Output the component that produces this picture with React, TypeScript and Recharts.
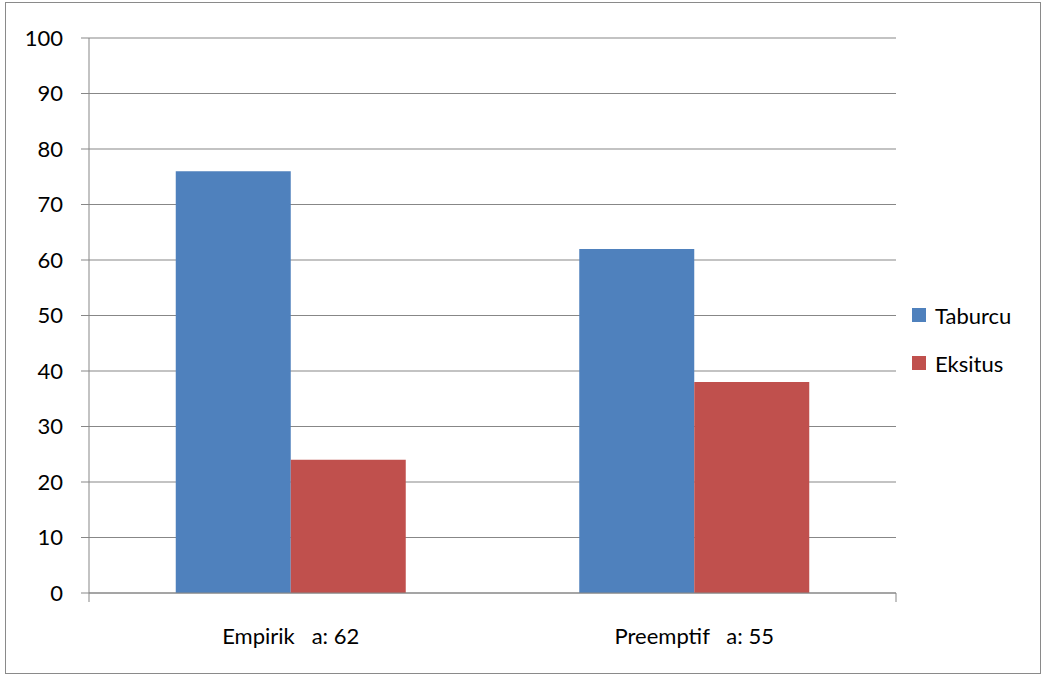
import React from "react";
import {
  Bar,
  BarChart,
  CartesianGrid,
  Legend,
  XAxis,
  YAxis,
} from "recharts";

const groups = ["Empirik   a: 62", "Preemptif   a: 55"];
const seriesNames = ["Taburcu", "Eksitus"];
const taburcu = [76, 62];
const eksitus = [24, 38];
const yTicks = [0, 10, 20, 30, 40, 50, 60, 70, 80, 90, 100];

const rows = groups.map((g, i) => ({
  group: g,
  taburcu: taburcu[i],
  eksitus: eksitus[i],
}));

const FONT = "Lato, 'Liberation Sans', sans-serif";
const GRID = "#878787";

function GroupTick(props: any) {
  const { x, y, payload } = props;
  return (
    <text
      x={x}
      y={y}
      dy="0.71em"
      textAnchor="middle"
      fill="#000"
      fontSize={22}
      fontFamily={FONT}
      style={{ whiteSpace: "pre" }}
    >
      {payload.value}
    </text>
  );
}

// only the tick marks at the group edges, no labels
function EmptyTick() {
  return <g />;
}

function SideLegend(props: any) {
  const items = [...(props.payload || [])].sort(
    (a: any, b: any) => seriesNames.indexOf(a.value) - seriesNames.indexOf(b.value)
  );
  return (
    <div style={{ fontFamily: FONT, fontSize: 22, color: "#000" }}>
      {items.map((it: any) => (
        <div
          key={it.value}
          style={{ display: "flex", alignItems: "center", height: 48 }}
        >
          <span
            style={{
              width: 14,
              height: 14,
              background: it.color,
              marginRight: 9,
              display: "inline-block",
            }}
          />
          {it.value}
        </div>
      ))}
    </div>
  );
}

export default function App() {
  return (
    <div style={{ position: "absolute", left: 0, top: 0, width: 1043, height: 675, background: "#fff" }}>
      <div
        style={{
          position: "absolute",
          left: 5,
          top: 2,
          width: 1034,
          height: 670,
          border: "1px solid #8a8a8a",
        }}
      />
      <BarChart
        width={1043}
        height={675}
        data={rows}
        margin={{ top: 38, right: 17, bottom: 22, left: 0 }}
        barCategoryGap="21.5%"
        barGap={0}
        style={{ position: "absolute", left: 0, top: 0 }}
      >
        <CartesianGrid vertical={false} stroke={GRID} strokeWidth={1} />
        <XAxis
          xAxisId="cat"
          dataKey="group"
          height={59}
          axisLine={false}
          tickLine={false}
          tickSize={0}
          tickMargin={34}
          tick={<GroupTick />}
          interval={0}
        />
        <XAxis
          xAxisId="base"
          type="number"
          domain={[0, 2]}
          ticks={[0, 1, 2]}
          height={1}
          tick={EmptyTick}
          tickSize={9}
          axisLine={{ stroke: GRID }}
          tickLine={{ stroke: GRID }}
        />
        <YAxis
          domain={[0, 100]}
          ticks={yTicks}
          width={89}
          tickSize={8}
          tickMargin={18}
          axisLine={{ stroke: GRID }}
          tickLine={{ stroke: GRID }}
          tick={{ fill: "#000", fontSize: 22, fontFamily: FONT }}
          interval={0}
        />
        <Legend
          layout="vertical"
          align="right"
          verticalAlign="middle"
          content={<SideLegend />}
          wrapperStyle={{ left: 912, top: 291, width: 130 }}
        />
        <Bar xAxisId="cat" dataKey="taburcu" name="Taburcu" fill="#4F81BD" isAnimationActive={false} />
        <Bar xAxisId="cat" dataKey="eksitus" name="Eksitus" fill="#C0504D" isAnimationActive={false} />
      </BarChart>
    </div>
  );
}
